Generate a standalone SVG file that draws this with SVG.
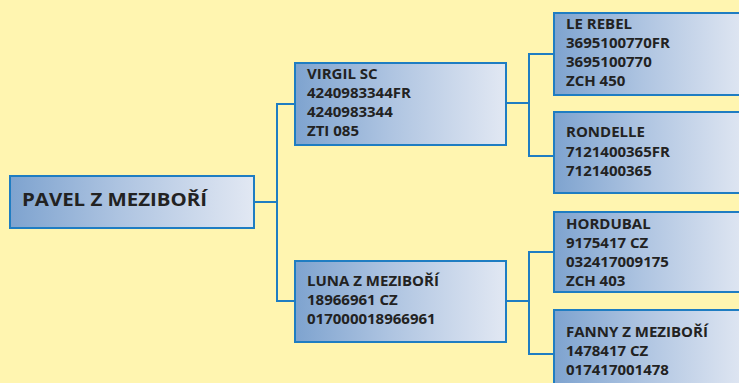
<svg xmlns="http://www.w3.org/2000/svg" width="739" height="383" viewBox="0 0 739 383">
<defs>
<linearGradient id="g" x1="0" y1="0" x2="1" y2="0">
<stop offset="0" stop-color="#7ea3cf"/>
<stop offset="0.45" stop-color="#aec4e1"/>
<stop offset="1" stop-color="#e2e8f3"/>
</linearGradient>
<style>
.box{fill:url(#g);stroke:#1f7dc2;stroke-width:2}
.t{font-family:"Open Sans","DejaVu Sans",sans-serif;font-weight:bold;font-size:15px;fill:#222}
.big{font-size:18px}
.c{fill:none;stroke:#1f7dc2;stroke-width:2}
</style>
</defs>
<rect x="0" y="0" width="739" height="383" fill="#fff5b0"/>
<g id="connectors">
<polyline class="c" points="254,202 277,202"/>
<polyline class="c" points="295,104 277,104 277,301 295,301"/>
<polyline class="c" points="506,103 529,103"/>
<polyline class="c" points="554,54 529,54 529,156 554,156"/>
<polyline class="c" points="506,301 529,301"/>
<polyline class="c" points="554,252 529,252 529,354 554,354"/>
</g>
<g id="pavel">
<rect class="box" x="10" y="176" width="244" height="52"/>
<text class="t big" x="22" y="206" textLength="185" lengthAdjust="spacingAndGlyphs">PAVEL Z MEZIBOŘÍ</text>
</g>
<g id="virgil">
<rect class="box" x="295" y="63" width="211" height="82"/>
<text class="t" x="307" y="79">VIRGIL SC</text>
<text class="t" x="307" y="98">4240983344FR</text>
<text class="t" x="307" y="117">4240983344</text>
<text class="t" x="307" y="136">ZTI 085</text>
</g>
<g id="luna">
<rect class="box" x="295" y="261" width="211" height="81"/>
<text class="t" x="307" y="286">LUNA Z MEZIBOŘÍ</text>
<text class="t" x="307" y="305">18966961 CZ</text>
<text class="t" x="307" y="324">017000018966961</text>
</g>
<g id="lerebel">
<rect class="box" x="554" y="13" width="195" height="82"/>
<text class="t" x="566" y="29">LE REBEL</text>
<text class="t" x="566" y="48">3695100770FR</text>
<text class="t" x="566" y="67">3695100770</text>
<text class="t" x="566" y="86">ZCH 450</text>
</g>
<g id="rondelle">
<rect class="box" x="554" y="112" width="195" height="81"/>
<text class="t" x="566" y="137">RONDELLE</text>
<text class="t" x="566" y="157">7121400365FR</text>
<text class="t" x="566" y="176">7121400365</text>
</g>
<g id="hordubal">
<rect class="box" x="554" y="212" width="195" height="80"/>
<text class="t" x="566" y="229">HORDUBAL</text>
<text class="t" x="566" y="248">9175417 CZ</text>
<text class="t" x="566" y="267">032417009175</text>
<text class="t" x="566" y="286">ZCH 403</text>
</g>
<g id="fanny">
<rect class="box" x="554" y="310" width="195" height="90"/>
<text class="t" x="566" y="337">FANNY Z MEZIBOŘÍ</text>
<text class="t" x="566" y="356">1478417 CZ</text>
<text class="t" x="566" y="375">017417001478</text>
</g>
</svg>
